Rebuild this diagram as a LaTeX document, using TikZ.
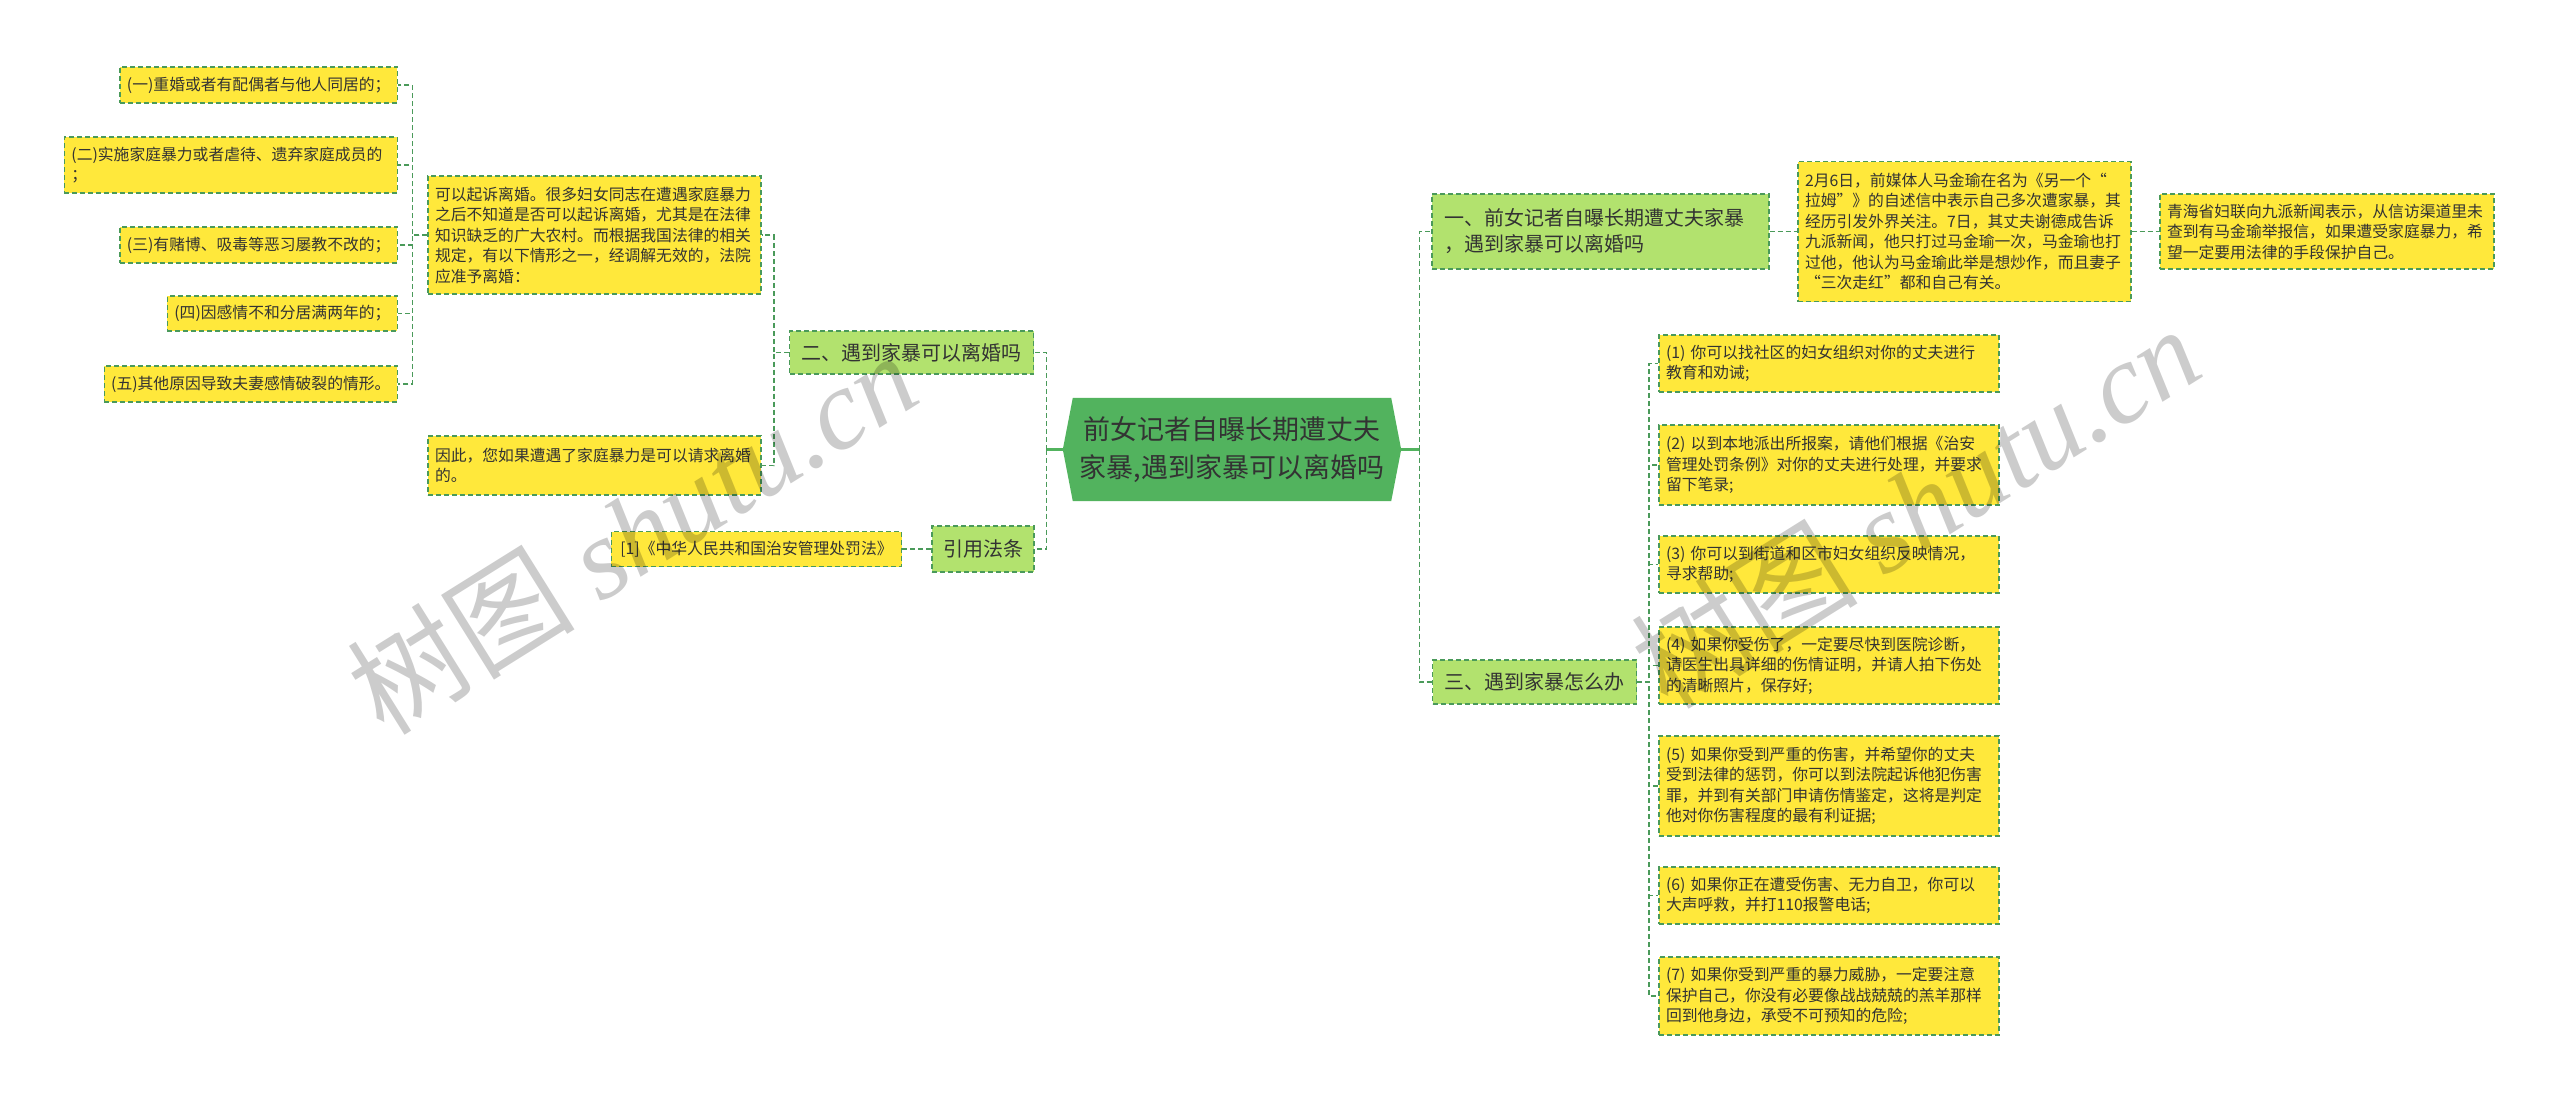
\documentclass[tikz,border=0pt]{standalone}
\usepackage{fontspec}
\setmainfont{Noto Sans CJK SC}
\newfontfamily\wmlatin{Liberation Serif}
\usetikzlibrary{backgrounds}
\definecolor{yel}{HTML}{FFE83B}
\definecolor{lgr}{HTML}{B2E26E}
\definecolor{cgr}{HTML}{52B35E}
\definecolor{bord}{HTML}{4A9A5A}
\definecolor{txt}{HTML}{333333}
\begin{document}
\begin{tikzpicture}[x=1pt,y=-1pt,
  ybox/.style={draw=bord, dash pattern=on 5pt off 3pt, line width=1.1pt, fill=yel, text=txt,
    font=\fontsize{15.8}{20.5}\selectfont, align=left, inner xsep=7pt, inner ysep=6pt},
  gbox/.style={ybox, fill=lgr, font=\fontsize{20}{26}\selectfont, inner xsep=12pt},
  conn/.style={draw=bord, dash pattern=on 5pt off 3pt, line width=1.3pt},
  stub/.style={draw=cgr, line width=3pt},
  wm/.style={rotate=32, text=black, opacity=0.2, font=\fontsize{114}{114}\selectfont}]
\useasboundingbox (0,0) rectangle (2560,1104);

% centre
\node[text=txt, font=\fontsize{27}{38}\selectfont, align=center, text width=310pt,
  minimum width=318pt, minimum height=103pt, inner sep=0pt] (c) at (1232,449.5)
  {前女记者自曝长期遭丈夫\\家暴,遇到家暴可以离婚吗};
\begin{scope}[on background layer]
  \fill[white] (0,0) rectangle (2560,1104);
  \fill[cgr] (c.north west) -- ([xshift=-10pt]c.west) -- (c.south west) -- (c.south east)
    -- ([xshift=10pt]c.east) -- (c.north east) -- cycle;
\end{scope}

% left branch
\node[ybox, anchor=east, minimum height=36pt] (A1) at (398,85) {(一)重婚或者有配偶者与他人同居的；};
\node[ybox, anchor=east, text width=319pt, minimum height=56pt] (A2) at (398,165) {(二)实施家庭暴力或者虐待、遗弃家庭成员的\\；};
\node[ybox, anchor=east, minimum height=36pt] (A3) at (398,245) {(三)有赌博、吸毒等恶习屡教不改的；};
\node[ybox, anchor=east, minimum height=35pt] (A4) at (398,313.5) {(四)因感情不和分居满两年的；};
\node[ybox, anchor=east, minimum height=36pt] (A5) at (398,384) {(五)其他原因导致夫妻感情破裂的情形。};

\node[ybox, text width=319pt, minimum height=118pt] (B1) at (594.5,235)
 {可以起诉离婚。很多妇女同志在遭遇家庭暴力\\之后不知道是否可以起诉离婚，尤其是在法律\\知识缺乏的广大农村。而根据我国法律的相关\\规定，有以下情形之一，经调解无效的，法院\\应准予离婚：};
\node[ybox, text width=319pt, minimum height=59pt] (B2) at (594.5,465.5)
 {因此，您如果遭遇了家庭暴力是可以请求离婚\\的。};

\node[gbox, minimum height=43pt] (C2) at (911.5,352.5) {二、遇到家暴可以离婚吗};
\node[gbox, minimum height=46pt, inner xsep=11pt] (C3) at (983,549) {引用法条};
\node[ybox, minimum height=35pt, inner xsep=9pt] (D1) at (756.5,549) {[1]《中华人民共和国治安管理处罚法》};

% right branch
\node[gbox, text width=313pt, minimum height=75pt] (E1) at (1600.5,231.5)
 {一、前女记者自曝长期遭丈夫家暴\\，遇到家暴可以离婚吗};
\node[ybox, text width=319pt, minimum height=140pt] (F1) at (1964.5,231.5)
 {2月6日，前媒体人马金瑜在名为《另一个“\\拉姆”》的自述信中表示自己多次遭家暴，其\\经历引发外界关注。7日，其丈夫谢德成告诉\\九派新闻，他只打过马金瑜一次，马金瑜也打\\过他，他认为马金瑜此举是想炒作，而且妻子\\“三次走红”都和自己有关。};
\node[ybox, text width=320pt, minimum height=75pt] (G1) at (2327,231.5)
 {青海省妇联向九派新闻表示，从信访渠道里未\\查到有马金瑜举报信，如果遭受家庭暴力，希\\望一定要用法律的手段保护自己。};

\node[gbox, anchor=west, minimum height=44pt] (E3) at (1432,682) {三、遇到家暴怎么办};
\node[ybox, text width=326pt, minimum height=57pt] (H1) at (1829,363.5)
 {(1) 你可以找社区的妇女组织对你的丈夫进行\\教育和劝诫;};
\node[ybox, text width=326pt, minimum height=80pt] (H2) at (1829,465)
 {(2) 以到本地派出所报案，请他们根据《治安\\管理处罚条例》对你的丈夫进行处理，并要求\\留下笔录;};
\node[ybox, text width=326pt, minimum height=57pt] (H3) at (1829,564.5)
 {(3) 你可以到街道和区市妇女组织反映情况，\\寻求帮助;};
\node[ybox, text width=326pt, minimum height=77pt] (H4) at (1829,665.5)
 {(4) 如果你受伤了，一定要尽快到医院诊断，\\请医生出具详细的伤情证明，并请人拍下伤处\\的清晰照片，保存好;};
\node[ybox, text width=326pt, minimum height=100pt] (H5) at (1829,786)
 {(5) 如果你受到严重的伤害，并希望你的丈夫\\受到法律的惩罚，你可以到法院起诉他犯伤害\\罪，并到有关部门申请伤情鉴定，这将是判定\\他对你伤害程度的最有利证据;};
\node[ybox, text width=326pt, minimum height=57pt] (H6) at (1829,895.5)
 {(6) 如果你正在遭受伤害、无力自卫，你可以\\大声呼救，并打110报警电话;};
\node[ybox, text width=326pt, minimum height=78pt] (H7) at (1829,996)
 {(7) 如果你受到严重的暴力威胁，一定要注意\\保护自己，你没有必要像战战兢兢的羔羊那样\\回到他身边，承受不可预知的危险;};

% connectors
\foreach \n in {A1,A2,A3,A4,A5} \draw[conn] (B1.west) -- ++(-15,0) |- (\n.east);
\foreach \n in {B1,B2} \draw[conn] (C2.west) -- ++(-15,0) |- (\n.east);
\draw[conn] (D1.east) -- (D1.east -| C3.west);
\draw[stub] ([xshift=-10pt]c.west) -- ++(-16,0) coordinate (cl);
\draw[stub] ([xshift=10pt]c.east) -- ++(18,0) coordinate (cr);
\foreach \n in {C2,C3} \draw[conn] (cl) |- (\n.east);
\foreach \n in {E1,E3} \draw[conn] (cr) |- (\n.west);
\draw[conn] (E1.east) -- (E1.east -| F1.west);
\draw[conn] (F1.east) -- (F1.east -| G1.west);
\foreach \n in {H1,H2,H3,H4,H5,H6,H7} \draw[conn] (E3.east) -- ++(12,0) |- (\n.west);

% watermark
\node[wm] (wm1) at (632,532) {树图 {\wmlatin\itshape shutu.cn}};
\node[wm] (wm2) at (1915,506) {树图 {\wmlatin\itshape shutu.cn}};
\end{tikzpicture}
\end{document}
